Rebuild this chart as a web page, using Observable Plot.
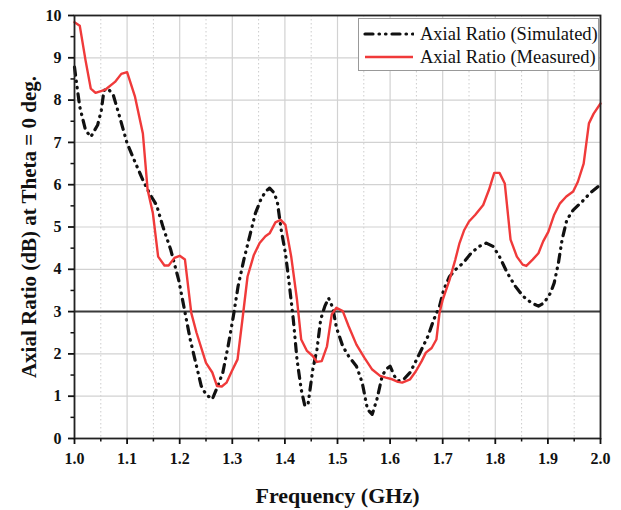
<!DOCTYPE html>
<html>
<head>
<meta charset="utf-8">
<script src="https://cdn.jsdelivr.net/npm/d3@7"></script>
<script src="https://cdn.jsdelivr.net/npm/@observablehq/plot@0.6"></script>
<style>
  html, body { margin: 0; padding: 0; background: #fff; }
  #chart { position: relative; width: 621px; height: 510px; font-family: "Liberation Serif", "Times New Roman", serif; }
  #legend {
    position: absolute; left: 358px; top: 18px; width: 241px; height: 53px;
    box-sizing: border-box; border: 1px solid #999; background: #fff;
    font-size: 18.5px; color: #111;
  }
  #legend .row { position: absolute; left: 3px; height: 22px; display: flex; align-items: center; white-space: nowrap; }
  #legend svg { margin-right: 6px; }
</style>
</head>
<body>
<div id="chart"></div>
<script>
// Simulated axial ratio: frequency (GHz) and AR (dB)
const simFreq = [1.0, 1.004, 1.01, 1.021, 1.031, 1.044, 1.051, 1.056, 1.064, 1.074, 1.085, 1.1, 1.115, 1.13, 1.144, 1.156, 1.168, 1.183, 1.198, 1.209, 1.22, 1.232, 1.241, 1.25, 1.262, 1.271, 1.282, 1.292, 1.302, 1.311, 1.322, 1.333, 1.344, 1.354, 1.363, 1.371, 1.38, 1.386, 1.393, 1.401, 1.408, 1.416, 1.423, 1.431, 1.438, 1.444, 1.453, 1.461, 1.468, 1.476, 1.483, 1.491, 1.498, 1.51, 1.521, 1.536, 1.547, 1.557, 1.566, 1.575, 1.585, 1.592, 1.6, 1.608, 1.615, 1.626, 1.638, 1.649, 1.66, 1.672, 1.683, 1.694, 1.702, 1.713, 1.724, 1.739, 1.754, 1.769, 1.783, 1.796, 1.808, 1.823, 1.838, 1.853, 1.868, 1.882, 1.893, 1.905, 1.912, 1.92, 1.927, 1.936, 1.948, 1.965, 1.98, 1.995, 2.0];
const simAR = [8.78, 8.39, 7.84, 7.29, 7.13, 7.41, 7.76, 8.23, 8.27, 8.11, 7.64, 6.98, 6.54, 6.11, 5.76, 5.52, 5.01, 4.46, 3.75, 3.05, 2.34, 1.71, 1.24, 1.04, 0.93, 1.2, 1.56, 2.18, 2.89, 3.6, 4.23, 4.78, 5.33, 5.64, 5.84, 5.92, 5.8, 5.56, 4.93, 4.38, 3.68, 2.81, 1.87, 1.16, 0.77, 0.81, 1.63, 2.11, 2.81, 3.13, 3.32, 3.09, 2.62, 2.18, 1.95, 1.71, 1.32, 0.69, 0.57, 0.93, 1.48, 1.63, 1.71, 1.48, 1.36, 1.4, 1.56, 1.83, 2.11, 2.42, 2.81, 3.13, 3.52, 3.83, 3.99, 4.15, 4.38, 4.54, 4.62, 4.54, 4.3, 3.91, 3.6, 3.36, 3.21, 3.13, 3.21, 3.44, 3.68, 4.15, 4.7, 5.17, 5.4, 5.6, 5.8, 5.95, 6.0];

// Measured axial ratio: frequency (GHz) and AR (dB)
const measFreq = [1.0, 1.01, 1.021, 1.031, 1.04, 1.059, 1.077, 1.089, 1.1, 1.115, 1.13, 1.139, 1.149, 1.159, 1.171, 1.179, 1.19, 1.2, 1.21, 1.222, 1.232, 1.25, 1.262, 1.271, 1.28, 1.289, 1.299, 1.31, 1.32, 1.329, 1.341, 1.352, 1.363, 1.371, 1.382, 1.392, 1.401, 1.412, 1.423, 1.431, 1.442, 1.453, 1.461, 1.47, 1.48, 1.489, 1.498, 1.51, 1.521, 1.536, 1.551, 1.566, 1.581, 1.592, 1.604, 1.615, 1.623, 1.638, 1.649, 1.66, 1.668, 1.679, 1.688, 1.694, 1.7, 1.713, 1.724, 1.732, 1.741, 1.75, 1.762, 1.777, 1.788, 1.798, 1.808, 1.818, 1.829, 1.841, 1.852, 1.859, 1.871, 1.882, 1.891, 1.901, 1.912, 1.923, 1.935, 1.948, 1.957, 1.968, 1.978, 1.987, 2.0];
const measAR = [9.84, 9.76, 8.94, 8.27, 8.17, 8.25, 8.43, 8.62, 8.66, 8.08, 7.21, 5.88, 5.33, 4.3, 4.09, 4.09, 4.27, 4.32, 4.23, 2.97, 2.5, 1.79, 1.56, 1.24, 1.23, 1.32, 1.59, 1.87, 2.89, 3.83, 4.34, 4.62, 4.78, 4.85, 5.11, 5.17, 5.05, 4.3, 3.28, 2.34, 2.07, 1.95, 1.81, 1.83, 2.18, 2.93, 3.09, 3.01, 2.66, 2.22, 1.91, 1.63, 1.48, 1.44, 1.4, 1.34, 1.32, 1.4, 1.59, 1.83, 2.03, 2.14, 2.34, 2.97, 3.28, 3.75, 4.23, 4.62, 4.93, 5.13, 5.29, 5.52, 5.88, 6.28, 6.28, 6.03, 4.7, 4.3, 4.11, 4.08, 4.23, 4.38, 4.66, 4.89, 5.29, 5.56, 5.72, 5.84, 6.07, 6.5, 7.45, 7.68, 7.92];

// 3 dB axial-ratio threshold
const threshold = [3];

// Axis ticks
const xMajor = [1.0, 1.1, 1.2, 1.3, 1.4, 1.5, 1.6, 1.7, 1.8, 1.9, 2.0];
const xMinor = [1.05, 1.15, 1.25, 1.35, 1.45, 1.55, 1.65, 1.75, 1.85, 1.95];
const yMajor = [0, 1, 2, 3, 4, 5, 6, 7, 8, 9, 10];
const yMinor = [0.5, 1.5, 2.5, 3.5, 4.5, 5.5, 6.5, 7.5, 8.5, 9.5];

const seriesNames = ["Axial Ratio (Simulated)", "Axial Ratio (Measured)"];

const sim = simFreq.map((f, i) => ({f, v: simAR[i]}));
const meas = measFreq.map((f, i) => ({f, v: measAR[i]}));

const serif = "Liberation Serif, Times New Roman, serif";
const simDash = "8,6,0.5,6,0.5,6";
const measColor = "#f03a3a";

const chart = Plot.plot({
  width: 621,
  height: 510,
  marginLeft: 74,
  marginRight: 21,
  marginTop: 15,
  marginBottom: 72,
  style: {fontFamily: serif, background: "#fff", color: "#111"},
  x: {domain: [1, 2]},
  y: {domain: [0, 10]},
  marks: [
    Plot.gridX(xMinor, {stroke: "#ccc", strokeOpacity: 1, strokeDasharray: "1.5,2.5"}),
    Plot.gridX(xMajor, {stroke: "#d2d2d2", strokeOpacity: 1, strokeWidth: 1.2}),
    Plot.gridY(yMajor, {stroke: "#d2d2d2", strokeOpacity: 1, strokeWidth: 1.2}),
    Plot.ruleY(threshold, {stroke: "#3a3a3a", strokeWidth: 2}),
    Plot.line(sim, {x: "f", y: "v", stroke: "#111", strokeWidth: 3.2, strokeDasharray: simDash, strokeLinecap: "round"}),
    Plot.line(meas, {x: "f", y: "v", stroke: measColor, strokeWidth: 2.4}),
    Plot.frame({stroke: "#222", strokeWidth: 1.8}),
    Plot.axisX(xMajor, {tickSize: 6, tickPadding: 8, tickFormat: d3.format(".1f"), fontSize: 16, fontWeight: "bold", label: null, strokeWidth: 1.8}),
    Plot.axisX(xMinor, {tickSize: 3.5, tickFormat: () => "", label: null, strokeWidth: 1.5}),
    Plot.axisY(yMajor, {tickSize: 6, tickPadding: 7, fontSize: 16, fontWeight: "bold", label: null, strokeWidth: 1.8}),
    Plot.axisY(yMinor, {tickSize: 3.5, tickFormat: () => "", label: null, strokeWidth: 1.5}),
    Plot.text(["Frequency (GHz)"], {frameAnchor: "bottom", dy: 57, lineAnchor: "middle", textAnchor: "middle", fontSize: 22, fontWeight: "bold", fill: "#111"}),
    Plot.text(["Axial Ratio (dB) at Theta = 0 deg."], {frameAnchor: "left", dx: -45, rotate: -90, lineAnchor: "middle", textAnchor: "middle", fontSize: 21, fontWeight: "bold", fill: "#111"})
  ]
});

const root = document.getElementById("chart");
root.appendChild(chart);

// Legend box, top right inside the plot frame
const legend = d3.select(root).append("div").attr("id", "legend");
const swatches = [
  {name: seriesNames[0], stroke: "#111", width: 3.2, dash: simDash, cap: "round"},
  {name: seriesNames[1], stroke: measColor, width: 2.4, dash: null, cap: null}
];
swatches.forEach((s, i) => {
  const row = legend.append("div").attr("class", "row").style("top", (4 + i * 23) + "px");
  const sw = row.append("svg").attr("width", 52).attr("height", 12);
  sw.append("line").attr("x1", 3).attr("x2", 51).attr("y1", 6).attr("y2", 6)
    .attr("stroke", s.stroke).attr("stroke-width", s.width)
    .attr("stroke-dasharray", s.dash).attr("stroke-linecap", s.cap);
  row.append("span").text(s.name);
});
</script>
</body>
</html>
